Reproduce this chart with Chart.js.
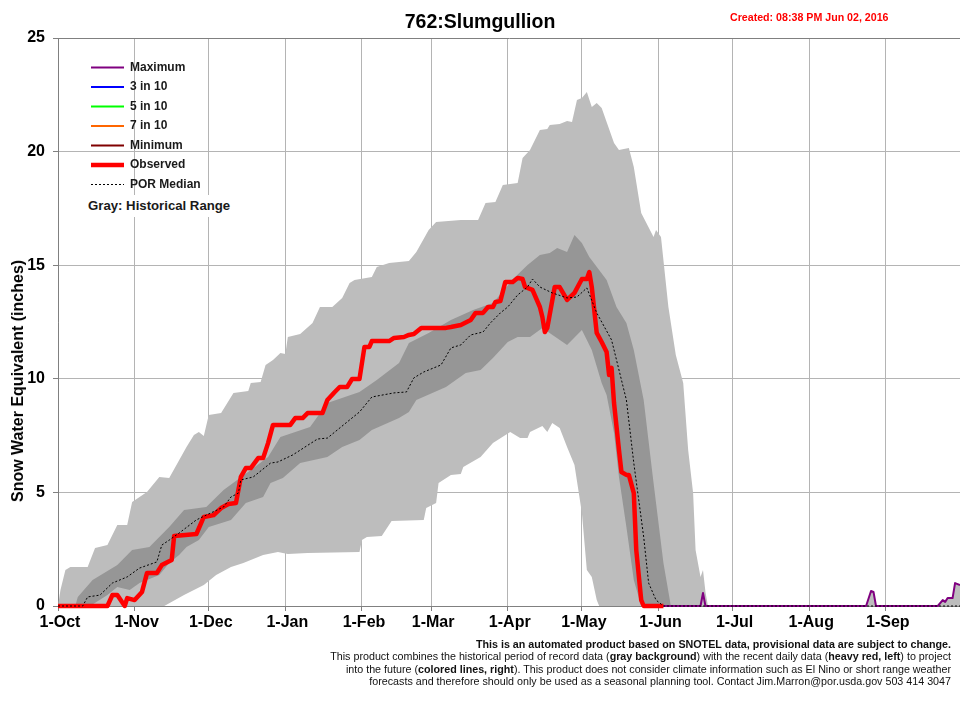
<!DOCTYPE html>
<html lang="en">
<head>
    <meta charset="utf-8">
    <title>762:Slumgullion</title>
    <script src="https://cdn.jsdelivr.net/npm/chart.js@4/dist/chart.umd.min.js"></script>
<style>
body { margin:0; background:#fff; font-family:"Liberation Sans",Arial,sans-serif; }
#wrap { position:relative; width:960px; height:714px; overflow:hidden; }
#mycanvas { position:absolute; left:0; top:0; }
#created { position:absolute; left:730px; top:10.5px; color:#f00; font-weight:bold; font-size:10.65px; white-space:nowrap; }
#ylabel { position:absolute; left:18px; top:381px; font-weight:bold; font-size:16px; white-space:nowrap; transform:translate(-50%,-50%) rotate(-90deg); }
#graynote { position:absolute; left:88px; top:195px; width:145px; height:22px; line-height:22px; background:#fff; font-weight:bold; font-size:13.2px; white-space:nowrap; color:#1a1a1a; }
#notes { position:absolute; right:9px; top:638px; text-align:right; font-size:10.72px; line-height:12.3px; white-space:nowrap; color:#111; }
</style>
</head>

<body>
<div id="wrap">
<canvas id="mycanvas" width="960" height="714"></canvas>
<div id="created">Created: 08:38 PM Jun 02, 2016</div>
<div id="ylabel">Snow Water Equivalent (inches)</div>
<div id="graynote">Gray: Historical Range</div>
<div id="notes">
<b>This is an automated product based on SNOTEL data, provisional data are subject to change.</b><br>
This product combines the historical period of record data (<b>gray background</b>) with the recent daily data (<b>heavy red, left</b>) to project<br>
into the future (<b>colored lines, right</b>). This product does not consider climate information such as El Nino or short range weather<br>
forecasts and therefore should only be used as a seasonal planning tool. Contact Jim.Marron@por.usda.gov 503 414 3047
</div>
</div>

<script>
// x values are days since 1-Oct, y values are inches of snow water
var monthDays = [0,31,61,92,123,151,182,212,243,273,304,335];
var monthLabels = ['1-Oct','1-Nov','1-Dec','1-Jan','1-Feb','1-Mar','1-Apr','1-May','1-Jun','1-Jul','1-Aug','1-Sep'];
var yTicks = [0,5,10,15,20,25];

var rangeHighDays = [0,1,3,5,12,15,20,24,28,30,36,41,45,52,55,57,59,61,66,71,77,78,82,84,87,90,92,93,98,103,106,111,115,118,120,127,129,134,142,145,150,153,163,170,173,177,180,186,188,191,195,198,199,203,206,208,210,212,214,216,218,220,225,227,231,233,236,241,242,244,247,250,253,255,257,258,260,261,262,263,327,329,330,331,356,358,359,360,362,363,365];
var rangeHighVals = [0,0.7,1.58,1.72,1.72,2.55,2.68,3.57,3.57,4.58,5.02,5.68,5.63,7,7.53,7.66,7.48,8.41,8.49,9.38,9.46,9.82,9.86,10.61,10.83,11.14,11.09,11.84,11.97,12.46,13.16,13.16,13.56,14.22,14.35,14.48,14.92,15.1,15.18,15.58,16.55,16.9,16.99,16.99,17.74,17.78,18.53,18.62,19.72,20.07,20.95,20.99,21.17,21.21,21.35,21.3,22.27,22.36,22.62,21.96,22.14,21.92,20.38,20.07,20.16,19.32,17.3,16.24,16.55,16.24,13.16,11.05,9.82,6.87,4.97,2.46,1.28,1.58,0.62,0,0,0.66,0.62,0,0,0.26,0.18,0.35,0.35,1.01,0.92];

var rangeLowDays = [0,43,51,59,64,70,75,83,89,93,101,122,123,125,131,135,148,149,153,154,159,163,164,171,176,183,187,190,191,196,198,200,203,206,209,212,214,216,218,219,365];
var rangeLowVals = [0,0,0.48,0.92,1.36,1.72,1.89,2.24,2.38,2.29,2.33,2.38,2.9,3.04,3.08,3.74,3.79,4.31,4.53,5.41,5.77,5.81,6.12,6.56,7.17,7.66,7.39,7.39,7.66,7.92,7.66,8.05,7.83,7,6.21,4.09,1.58,1.28,0.26,0,0];

var bandHighDays = [7,8,14,24,30,37,45,51,60,67,78,85,90,102,109,122,129,138,142,150,159,168,176,185,190,195,199,202,206,209,212,215,222,226,230,233,237,241,245,248];
var bandHighVals = [0,0.4,1.14,1.8,2.46,2.6,3.48,4.23,4.36,5.11,5.99,6.56,7.44,7.88,8.93,9.42,9.95,10.7,11.58,12.02,12.59,13.03,13.34,14.48,15.01,15.45,15.54,15.76,15.58,16.33,15.98,15.36,14.35,13.16,12.46,11.27,9.07,5.41,1.89,0];

var bandLowDays = [7,13,20,24,29,33,41,45,49,52,57,61,70,76,83,86,91,98,109,115,122,127,138,142,145,157,165,171,176,182,186,191,196,206,212,216,220,222,225,227,230,233,236,248];
var bandLowVals = [0,0,0.48,0.84,0.7,1.01,1.36,1.89,2.24,2.6,2.9,3.48,3.79,4.53,4.8,5.41,5.63,6.29,6.56,7,7.31,7.75,8.27,8.54,9.07,9.64,10.26,10.39,10.92,11.62,11.84,11.84,12.24,11.49,12.15,11.27,9.82,9.29,7.61,5.68,3.48,1.14,0,0];

var observedDays = [0,20,22,24,27,28,31,34,36,40,42,46,47,56,59,63,66,69,72,74,76,78,81,83,85,87,94,96,99,101,107,109,112,114,117,119,122,124,126,127,134,136,140,142,144,147,157,159,163,167,169,172,174,176,177,179,181,184,186,188,189,192,195,196,197,198,201,203,206,209,212,214,215,216,218,220,222,223,224,225,227,228,230,231,233,234,236,237,245];
var observedVals = [0,0,0.48,0.48,0,0.35,0.26,0.62,1.45,1.45,1.8,2.02,3.08,3.17,3.92,4,4.31,4.49,4.53,5.68,6.07,6.07,6.51,6.51,7.17,7.97,7.97,8.27,8.27,8.49,8.49,9.07,9.42,9.64,9.64,9.99,9.99,11.4,11.4,11.66,11.66,11.8,11.84,11.93,11.97,12.24,12.24,12.28,12.37,12.59,12.9,12.9,13.16,13.16,13.38,13.42,14.26,14.26,14.44,14.39,14.04,13.91,13.16,12.72,12.06,12.24,14.04,14.04,13.47,13.78,14.39,14.39,14.7,14.04,12.02,11.62,11.18,10.17,10.48,8.93,6.87,5.9,5.77,5.77,4.97,2.46,0.26,0,0];

var medianDays = [0,10,12,17,22,28,33,40,42,45,49,56,60,67,70,73,74,79,86,89,95,105,109,117,122,127,136,141,144,148,155,159,163,167,172,175,179,182,186,190,192,195,200,206,210,214,218,224,226,230,233,237,239,242,245,365];
var medianVals = [0,0,0.4,0.48,1.01,1.28,1.67,1.94,2.68,2.9,3.21,3.79,4,4.36,4.8,4.97,5.55,5.68,6.29,6.34,6.65,7.35,7.39,8.1,8.54,9.2,9.38,9.42,10.04,10.3,10.61,11.36,11.49,11.93,12.06,12.46,12.9,13.16,13.69,14.04,14.39,14.04,13.78,13.56,13.6,14,12.9,11.71,10.83,9.07,6.29,3.04,1.01,0.26,0,0];

var maximumDays = [245,260,261,262,327,329,330,331,356,358,359,360,362,363,365];
var maximumVals = [0,0,0.57,0,0,0.66,0.62,0,0,0.26,0.18,0.35,0.35,1.01,0.92];

// no forecast trace shows in the picture, they only appear in the legend
var forecastDays = [];
var forecastVals = [];

function pts(days, vals) {
  return days.map(function(d, i) { return {x: d, y: vals[i]}; });
}

function lineSet(label, days, vals, color, width, order, dash) {
  return {
    label: label,
    data: pts(days, vals),
    borderColor: color,
    backgroundColor: color,
    borderWidth: width,
    borderDash: dash || [],
    order: order,
    clip: false,
    fill: false
  };
}

function graySet(label, days, vals, color, order, fill) {
  return {
    label: label,
    data: pts(days, vals),
    borderColor: color,
    backgroundColor: color,
    borderWidth: 0,
    order: order,
    fill: fill
  };
}

// legend sits inside the plot, chart.js only lets it start at the top edge
var legendPlace = {
  id: 'legendPlace',
  afterLayout: function(chart) {
    var lg = chart.legend;
    lg.left = 83.5;
    lg.right = 300;
    lg.top = 54;
    lg.bottom = 200;
  }
};

var ctx = document.getElementById('mycanvas');

new Chart(ctx, {
  type: 'line',
  plugins: [legendPlace],
  data: {
    datasets: [
      lineSet('Maximum', maximumDays, maximumVals, '#800080', 2, 2),
      lineSet('3 in 10', forecastDays, forecastVals, '#0000ff', 2, 3),
      lineSet('5 in 10', forecastDays, forecastVals, '#00ff00', 2, 4),
      lineSet('7 in 10', forecastDays, forecastVals, '#ff6600', 2, 5),
      lineSet('Minimum', forecastDays, forecastVals, '#800000', 2, 6),
      lineSet('Observed', observedDays, observedVals, '#ff0000', 4.5, 1),
      lineSet('POR Median', medianDays, medianVals, '#000000', 1, 0, [2, 2]),
      graySet('Middle High', bandHighDays, bandHighVals, '#969696', 10, '+1'),
      graySet('Middle Low', bandLowDays, bandLowVals, '#969696', 11, false),
      graySet('Range High', rangeHighDays, rangeHighVals, '#bdbdbd', 12, '+1'),
      graySet('Range Low', rangeLowDays, rangeLowVals, '#bdbdbd', 13, false)
    ]
  },
  options: {
    responsive: false,
    animation: false,
    events: [],
    elements: {
      point: { radius: 0 },
      line: { tension: 0, borderJoinStyle: 'round' }
    },
    layout: { padding: 0 },
    plugins: {
      tooltip: { enabled: false },
      title: {
        display: true,
        text: '762:Slumgullion',
        color: '#000',
        font: { family: 'Liberation Sans', size: 19.5, weight: 'bold' },
        padding: { top: 11, bottom: 3.6 }
      },
      legend: {
        display: true,
        position: 'chartArea',
        align: 'start',
        labels: {
          color: '#1a1a1a',
          font: { family: 'Liberation Sans', size: 12, weight: 'bold' },
          usePointStyle: true,
          pointStyle: 'line',
          pointStyleWidth: 33,
          padding: 7.5,
          // point style labels lose the line dash, put it back from the dataset
          generateLabels: function(chart) {
            var items = Chart.defaults.plugins.legend.labels.generateLabels(chart);
            items.forEach(function(item) {
              item.lineDash = chart.data.datasets[item.datasetIndex].borderDash;
            });
            return items;
          },
          filter: function(item) { return item.datasetIndex < 7; },
          sort: function(a, b) { return a.datasetIndex - b.datasetIndex; }
        }
      }
    },
    scales: {
      x: {
        type: 'linear',
        min: 0,
        max: 365,
        afterBuildTicks: function(scale) {
          scale.ticks = monthDays.map(function(d) { return {value: d}; });
        },
        afterFit: function(scale) { scale.height = 108; },
        border: { color: '#808080' },
        grid: { color: '#b4b4b4', tickColor: '#808080', tickLength: 5 },
        ticks: {
          autoSkip: false,
          maxRotation: 0,
          padding: 2,
          labelOffset: 2,
          color: '#000',
          font: { family: 'Liberation Sans', size: 16, weight: 'bold' },
          callback: function(v) { return monthLabels[monthDays.indexOf(v)]; }
        }
      },
      y: {
        min: 0,
        max: 25,
        afterBuildTicks: function(scale) {
          scale.ticks = yTicks.map(function(v) { return {value: v}; });
        },
        afterFit: function(scale) { scale.width = 58; },
        border: { color: '#808080' },
        grid: {
          color: function(c) { return c.tick && c.tick.value === 25 ? '#808080' : '#b4b4b4'; },
          tickColor: '#808080',
          tickLength: 5
        },
        ticks: {
          padding: 8,
          color: '#000',
          font: { family: 'Liberation Sans', size: 16, weight: 'bold' }
        }
      }
    }
  }
});
</script>
</body>
</html>
